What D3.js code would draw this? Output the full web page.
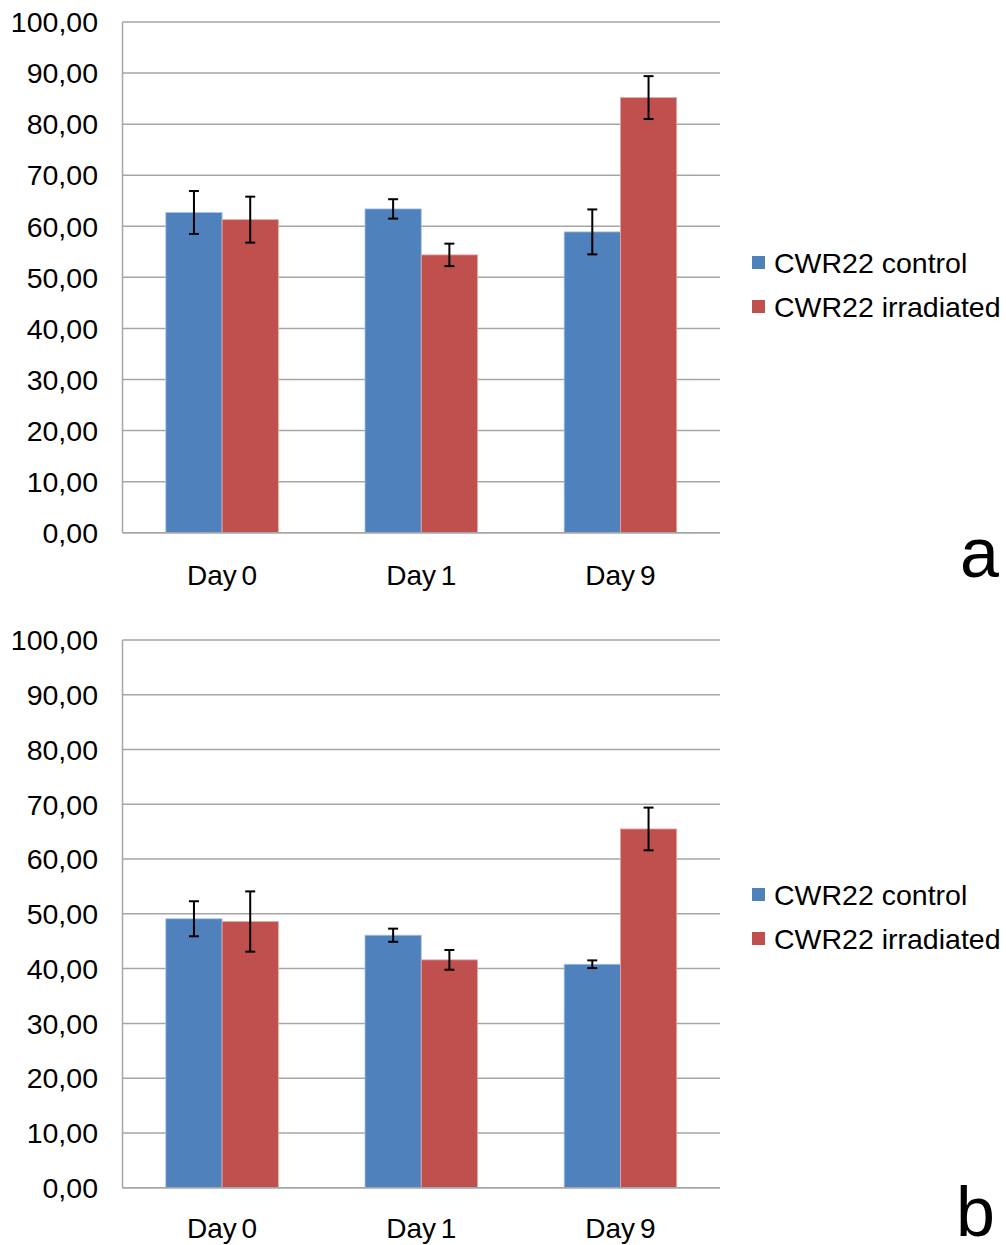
<!DOCTYPE html>
<html>
<head>
<meta charset="utf-8">
<script src="https://cdn.jsdelivr.net/npm/d3@7"></script>
<style>
  html, body { margin: 0; padding: 0; background: #fff; }
  svg { display: block; font-family: "Liberation Sans", Arial, sans-serif; }
</style>
</head>
<body>
<svg id="chart" width="1006" height="1245"></svg>
<script>
// Days on the x axis and the two series
const days = ["Day 0", "Day 1", "Day 9"];
const seriesNames = ["CWR22 control", "CWR22 irradiated"];
const seriesColors = ["#4F81BD", "#C0504D"];
const yTicks = [0, 10, 20, 30, 40, 50, 60, 70, 80, 90, 100];

// Panel a: means and error (±)
const aControl = [62.7, 63.4, 58.9];
const aControlErr = [4.2, 1.9, 4.4];
const aIrradiated = [61.3, 54.4, 85.2];
const aIrradiatedErr = [4.5, 2.2, 4.2];

// Panel b: means and error (±)
const bControl = [49.1, 46.1, 40.8];
const bControlErr = [3.2, 1.2, 0.7];
const bIrradiated = [48.6, 41.6, 65.5];
const bIrradiatedErr = [5.5, 1.8, 3.9];

const svg = d3.select("#chart");
const fmt = v => d3.format(".2f")(v).replace(".", ",");

function drawPanel(opt) {
  const g = svg.append("g");
  const x = d3.scaleBand().domain(days).range([opt.left, opt.right]).paddingInner(0).paddingOuter(0);
  const xs = d3.scaleBand().domain(seriesNames).range([0, x.bandwidth()]).paddingInner(0).paddingOuter(0.77);
  const y = d3.scaleLinear().domain([0, 100]).range([opt.bottom, opt.top]);

  // gridlines
  g.append("g").selectAll("line").data(yTicks).join("line")
    .attr("x1", opt.left).attr("x2", opt.right)
    .attr("y1", d => y(d)).attr("y2", d => y(d))
    .attr("stroke", "#a6a6a6").attr("stroke-width", 1.5);

  // y axis line
  g.append("line").attr("x1", opt.left).attr("x2", opt.left)
    .attr("y1", y(100)).attr("y2", y(0))
    .attr("stroke", "#a6a6a6").attr("stroke-width", 1.5);

  // y tick labels
  g.append("g").selectAll("text").data(yTicks).join("text")
    .attr("x", 98).attr("y", d => y(d)).attr("dy", "0.36em")
    .attr("text-anchor", "end").attr("font-size", 28.5).attr("fill", "#000")
    .text(fmt);

  const rows = days.map((d, i) => seriesNames.map((s, k) => ({
    day: d, series: s, k,
    value: opt.values[k][i], err: opt.errs[k][i]
  }))).flat();

  // bars
  g.append("g").selectAll("rect").data(rows).join("rect")
    .attr("x", d => x(d.day) + xs(d.series))
    .attr("width", xs.bandwidth())
    .attr("y", d => y(d.value))
    .attr("height", d => y(0) - y(d.value))
    .attr("fill", d => seriesColors[d.k])
    .attr("stroke", d => d.k === 0 ? "#a9c3e6" : "#e6a9a8")
    .attr("stroke-width", 0.8);

  // x axis baseline drawn above the bars
  g.append("line").attr("x1", opt.left).attr("x2", opt.right)
    .attr("y1", y(0)).attr("y2", y(0))
    .attr("stroke", "#a6a6a6").attr("stroke-width", 1.5);

  // error bars
  const eb = g.append("g").attr("stroke", "#000").attr("stroke-width", 2);
  rows.forEach(d => {
    const cx = x(d.day) + xs(d.series) + xs.bandwidth() / 2;
    const y1 = y(d.value + d.err), y2 = y(d.value - d.err);
    eb.append("line").attr("x1", cx).attr("x2", cx).attr("y1", y1).attr("y2", y2);
    eb.append("line").attr("x1", cx - 5).attr("x2", cx + 5).attr("y1", y1).attr("y2", y1);
    eb.append("line").attr("x1", cx - 5).attr("x2", cx + 5).attr("y1", y2).attr("y2", y2);
  });

  // category labels
  g.append("g").selectAll("text").data(days).join("text")
    .attr("x", d => x(d) + x.bandwidth() / 2).attr("y", opt.labelY)
    .attr("text-anchor", "middle").attr("font-size", 28).attr("fill", "#000")
    .attr("word-spacing", -3)
    .text(d => d);

  // legend
  const lg = g.append("g");
  seriesNames.forEach((s, k) => {
    const cy = opt.legendY + k * 44;
    lg.append("rect").attr("x", 752).attr("y", cy - 7).attr("width", 13).attr("height", 13)
      .attr("fill", seriesColors[k]);
    lg.append("text").attr("x", 774).attr("y", cy).attr("dy", "0.36em")
      .attr("font-size", 28.5).attr("fill", "#000").text(s);
  });

  // panel letter
  g.append("text").attr("x", opt.letterX).attr("y", opt.letterY)
    .attr("text-anchor", "end").attr("font-size", 70).attr("fill", "#000")
    .text(opt.letter);
}

drawPanel({
  left: 122.5, right: 720, top: 22, bottom: 532.7,
  values: [aControl, aIrradiated], errs: [aControlErr, aIrradiatedErr],
  labelY: 585, legendY: 263, letter: "a", letterX: 999, letterY: 577
});

drawPanel({
  left: 122.5, right: 720, top: 640, bottom: 1187.7,
  values: [bControl, bIrradiated], errs: [bControlErr, bIrradiatedErr],
  labelY: 1238, legendY: 895, letter: "b", letterX: 995, letterY: 1236
});
</script>
</body>
</html>
